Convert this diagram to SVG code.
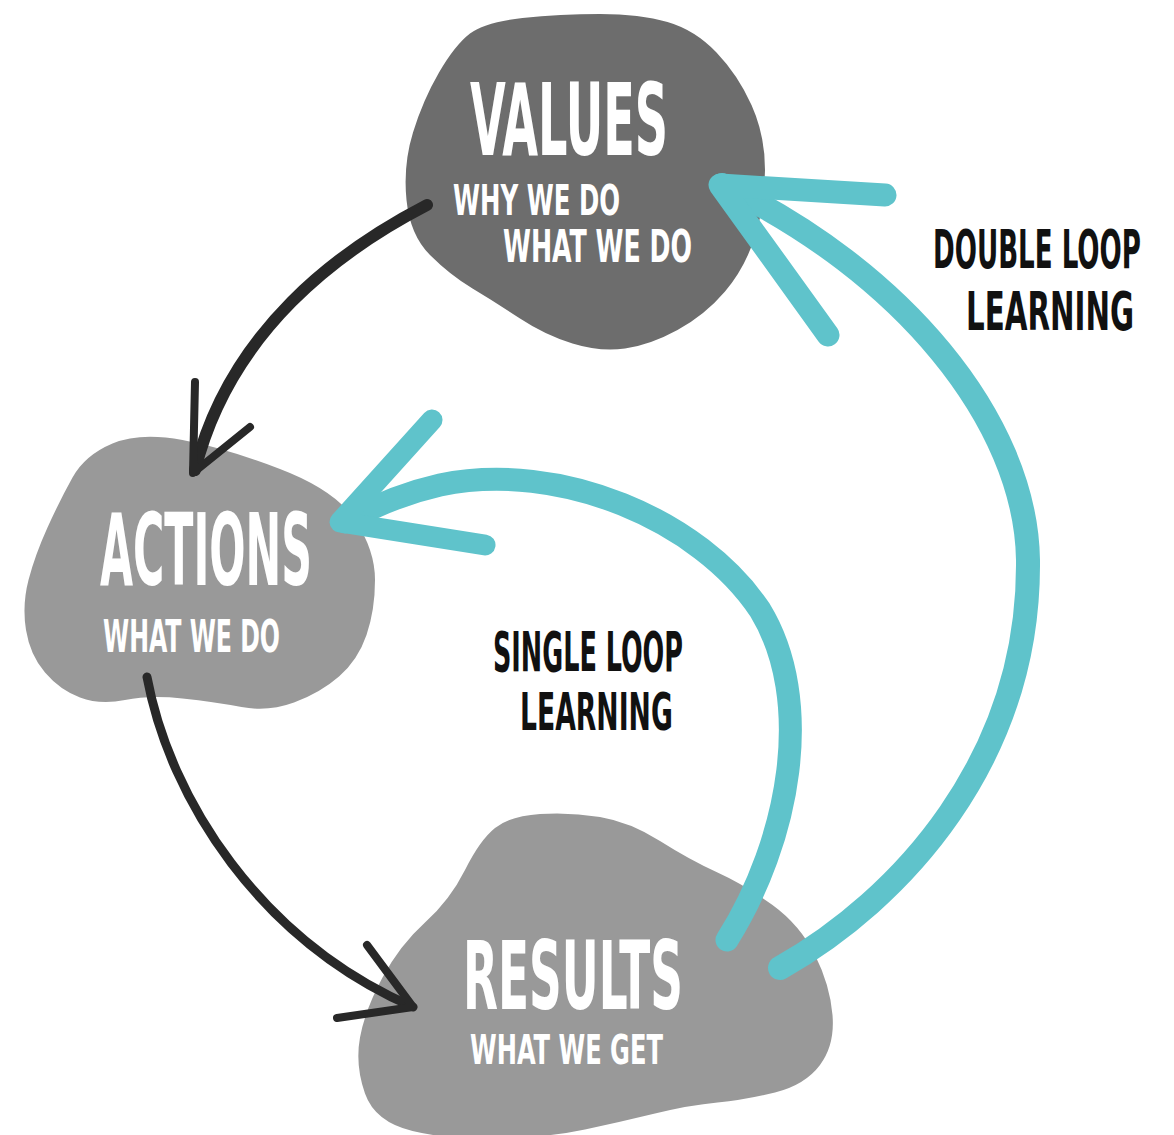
<svg xmlns="http://www.w3.org/2000/svg" width="1174" height="1135" viewBox="0 0 1174 1135">
<style>
.bg{fill:#ffffff}
.blob-dark{fill:#6d6d6d}
.blob-light{fill:#999999}
.hand{font-family:"Liberation Sans Narrow","DejaVu Sans Condensed","Liberation Sans",sans-serif;font-weight:700}
.white{fill:#ffffff}
.black{fill:#111111}
.teal{fill:none;stroke:#5fc3cb;stroke-linecap:round;stroke-linejoin:round}
.ink{fill:none;stroke:#282828;stroke-linecap:round;stroke-linejoin:round}
</style>
<rect class="bg" x="0" y="0" width="1174" height="1135"/>

<g id="node-values">
<path class="blob-dark" d="M 522.5 18 Q 560 14 600 14 Q 640 14 667.5 22 Q 695 30 716.5 52.5 Q 738 75 751.5 105 Q 765 135 765 170 Q 765 205 755 236.5 Q 745 268 725 291.5 Q 705 315 677.5 330 Q 650 345 625 348.5 Q 600 352 572.5 343.5 Q 545 335 520 318.5 Q 495 302 472.5 288.5 Q 450 275 430 255 Q 410 235 406.5 200 Q 403 165 413 132.5 Q 423 100 439 72.5 Q 455 45 470 33.5 Q 485 22 522.5 18 Z"/>
<text class="hand white" x="470" y="155" font-size="100" textLength="198" lengthAdjust="spacingAndGlyphs">VALUES</text>
<text class="hand white" x="453" y="215" font-size="42" textLength="167" lengthAdjust="spacingAndGlyphs">WHY WE DO</text>
<text class="hand white" x="503" y="262" font-size="44" textLength="189" lengthAdjust="spacingAndGlyphs">WHAT WE DO</text>
</g>

<g id="node-actions">
<path class="blob-light" d="M 112.5 443.5 Q 140 432 182.5 440 Q 225 448 280 469 Q 335 490 355 520 Q 375 550 375 580 Q 375 610 366.5 635 Q 358 660 339 676.5 Q 320 693 294 702.5 Q 268 712 241.5 707 Q 215 702 182.5 698.5 Q 150 695 125 700 Q 100 705 80 697.5 Q 60 690 45 672.5 Q 30 655 26 630 Q 22 605 28.5 580 Q 35 555 47.5 527.5 Q 60 500 72.5 477.5 Q 85 455 112.5 443.5 Z"/>
<text class="hand white" x="100" y="585" font-size="100" textLength="212" lengthAdjust="spacingAndGlyphs">ACTIONS</text>
<text class="hand white" x="103" y="652" font-size="44" textLength="177" lengthAdjust="spacingAndGlyphs">WHAT WE DO</text>
</g>

<g id="node-results">
<path class="blob-light" d="M 540 814 Q 570 812 600 817 Q 630 822 660 841 Q 690 860 717.5 872.5 Q 745 885 772.5 905 Q 800 925 815 955 Q 830 985 832.5 1015 Q 835 1045 820 1065 Q 805 1085 775 1092.5 Q 745 1100 717.5 1102.5 Q 690 1105 655 1113.5 Q 620 1122 585 1129.5 Q 550 1137 500 1138.5 Q 450 1140 412.5 1131 Q 375 1122 365 1093.5 Q 355 1065 360 1037.5 Q 365 1010 382.5 977.5 Q 400 945 425 922.5 Q 450 900 465 870 Q 480 840 495 828 Q 510 816 540 814 Z"/>
<text class="hand white" x="463" y="1009" font-size="94" textLength="220" lengthAdjust="spacingAndGlyphs">RESULTS</text>
<text class="hand white" x="470" y="1064" font-size="40" textLength="193" lengthAdjust="spacingAndGlyphs">WHAT WE GET</text>
</g>

<g id="connectors">
<g id="edge-values-actions">
<path class="ink" stroke-width="12" d="M 427 205 C 340 250, 230 330, 195 470"/>
<path class="ink" stroke-width="8" d="M 195 382 L 193 473 L 250 427"/>
</g>
<g id="edge-actions-results">
<path class="ink" stroke-width="9" d="M 147 677 C 170 800, 260 940, 413 1007"/>
<path class="ink" stroke-width="8" d="M 367 945 L 413 1007 L 337 1018"/>
</g>
<g id="edge-single-loop">
<path class="teal" stroke-width="23" d="M 727 940 C 790 840, 815 700, 760 610 C 700 520, 560 460, 440 485 C 400 494, 370 508, 345 522"/>
<path class="teal" stroke-width="21" d="M 432 420 L 340 522 L 485 545"/>
</g>
<g id="edge-double-loop">
<path class="teal" stroke-width="24" d="M 780 968 C 900 900, 1030 760, 1028 560 C 1026 420, 900 270, 722 185"/>
<path class="teal" stroke-width="23" d="M 885 195 L 720 185 L 828 335"/>
</g>
</g>

<g id="labels">
<text class="hand black" transform="translate(493,671) scale(0.5,1)" x="0" y="0" font-size="56" textLength="380" lengthAdjust="spacingAndGlyphs">SINGLE LOOP</text>
<text class="hand black" transform="translate(520,730) scale(0.57,1)" x="0" y="0" font-size="52" textLength="268" lengthAdjust="spacingAndGlyphs">LEARNING</text>
<text class="hand black" transform="translate(933,268) scale(0.54,1)" x="0" y="0" font-size="54" textLength="385" lengthAdjust="spacingAndGlyphs">DOUBLE LOOP</text>
<text class="hand black" transform="translate(966,330) scale(0.6,1)" x="0" y="0" font-size="54" textLength="280" lengthAdjust="spacingAndGlyphs">LEARNING</text>
</g>
</svg>
